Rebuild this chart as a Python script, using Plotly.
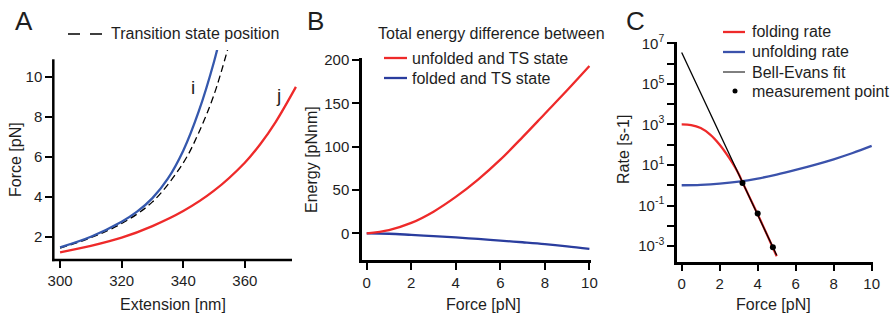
import plotly.graph_objects as go

# ---------------- data ----------------
# Panel A: force-extension curves
ext_i = [300, 310, 320, 325, 330, 335, 340, 345, 350, 352.5]
force_i = [1.47, 2.0, 2.75, 3.25, 3.93, 4.9, 6.3, 8.25, 10.75, 12.3]

ext_ts = [300, 310, 320, 330, 340, 345, 350, 355]
force_ts = [1.43, 1.95, 2.66, 3.74, 5.69, 7.19, 9.1, 11.68]

ext_j = [300, 310, 320, 330, 340, 350, 360, 365, 370, 376.6]
force_j = [1.22, 1.54, 1.95, 2.53, 3.28, 4.3, 5.7, 6.62, 7.73, 9.49]

# Panel B: total energy differences vs force
force_b = [0, 1, 2, 3, 4, 5, 6, 7, 8, 9, 10]
energy_unfolded_ts = [0, 3.8, 12, 25, 42, 62, 85, 111, 138, 165, 193]
energy_folded_ts = [0, -0.5, -1.8, -3.2, -4.8, -6.5, -8.4, -10.3, -12.4, -15, -18]

# Panel C: rates vs force
force_fold = [0, 0.5, 1.0, 1.5, 2.0, 2.5, 2.8, 3.0, 3.2, 3.5, 4.0, 4.5, 5.0]
rate_fold = [1000, 933, 661, 316, 100, 22.4, 7.94, 3.55, 1.41, 0.355, 0.0372, 0.00355, 0.000316]

force_unfold = [0, 1, 2, 3, 4, 5, 6, 7, 8, 9, 10]
rate_unfold = [1.0, 1.05, 1.20, 1.51, 2.14, 3.39, 5.75, 10.2, 19.1, 38.9, 87.1]

force_bell = [0, 5.0]
rate_bell = [3.5e6, 3.5e-4]

force_meas = [3.2, 4.0, 4.8]
rate_meas = [1.3, 0.04, 0.00087]

# tick labels
ticks_a_x = [300, 320, 340, 360]
ticks_a_y = [2, 4, 6, 8, 10]
ticks_b_x = [0, 2, 4, 6, 8, 10]
ticks_b_y = [0, 50, 100, 150, 200]
ticks_c_x = [0, 2, 4, 6, 8, 10]
ticks_c_y = [1e-3, 1e-1, 1e1, 1e3, 1e5, 1e7]
labels_c_y = ["10<sup>-3</sup>", "10<sup>-1</sup>", "10<sup>1</sup>",
              "10<sup>3</sup>", "10<sup>5</sup>", "10<sup>7</sup>"]
minor_c_y = [1e-2, 1e0, 1e2, 1e4, 1e6]

# ---------------- styling ----------------
W, H = 890, 320
RED = "#ee2a2a"
BLUE_A = "#3558ad"
BLUE_B = "#2a3d9e"
BLUE_C = "#3b52ab"
TXT = "#1e1e1e"
FONT = "Liberation Sans, Arial, Helvetica, sans-serif"
LW = 2.3


def px(x):
    return x / W


def py(y):
    return 1 - y / H


fig = go.Figure()

# Panel A
fig.add_trace(go.Scatter(x=ext_ts, y=force_ts, mode="lines", xaxis="x", yaxis="y",
                         line=dict(color="black", width=1.3, dash="7px,4px"), line_shape="spline"))
fig.add_trace(go.Scatter(x=ext_i, y=force_i, mode="lines", xaxis="x", yaxis="y",
                         line=dict(color=BLUE_A, width=LW), line_shape="spline"))
fig.add_trace(go.Scatter(x=ext_j, y=force_j, mode="lines", xaxis="x", yaxis="y",
                         line=dict(color=RED, width=LW), line_shape="spline"))

# Panel B
fig.add_trace(go.Scatter(x=force_b, y=energy_folded_ts, mode="lines", xaxis="x2", yaxis="y2",
                         line=dict(color=BLUE_B, width=LW), line_shape="spline"))
fig.add_trace(go.Scatter(x=force_b, y=energy_unfolded_ts, mode="lines", xaxis="x2", yaxis="y2",
                         line=dict(color=RED, width=LW), line_shape="spline"))

# Panel C
fig.add_trace(go.Scatter(x=force_unfold, y=rate_unfold, mode="lines", xaxis="x3", yaxis="y3",
                         line=dict(color=BLUE_C, width=LW), line_shape="spline"))
fig.add_trace(go.Scatter(x=force_fold, y=rate_fold, mode="lines", xaxis="x3", yaxis="y3",
                         line=dict(color=RED, width=LW), line_shape="spline"))
fig.add_trace(go.Scatter(x=force_bell, y=rate_bell, mode="lines", xaxis="x3", yaxis="y3",
                         line=dict(color="black", width=1.3)))
fig.add_trace(go.Scatter(x=force_meas, y=rate_meas, mode="markers", xaxis="x3", yaxis="y3",
                         marker=dict(color="black", size=6)))

axis_common = dict(showgrid=False, zeroline=False, ticks="outside", ticklen=7, tickwidth=2,
                   tickcolor="black", tickfont=dict(family=FONT, size=15, color=TXT))
line_common = dict(showline=True, linewidth=2.5, linecolor="black")

fig.update_layout(
    width=W, height=H, margin=dict(l=0, r=0, t=0, b=0, autoexpand=False),
    paper_bgcolor="white", plot_bgcolor="white", showlegend=False,
    font=dict(family=FONT, color=TXT),
    xaxis=dict(domain=[px(53.3), px(297)], range=[297.8, 376.95], anchor="y",
               tickvals=ticks_a_x, showline=False, **axis_common),
    yaxis=dict(domain=[py(260), py(50)], range=[0.835, 11.335], anchor="x",
               tickvals=ticks_a_y, showline=False, **axis_common),
    xaxis2=dict(domain=[px(362), px(590.5)], range=[-0.211, 10.05], anchor="y2",
                tickvals=ticks_b_x, **line_common, **axis_common),
    yaxis2=dict(domain=[py(260), py(58)], range=[-30.8, 202.3], anchor="x2",
                tickvals=ticks_b_y, **line_common, **axis_common),
    xaxis3=dict(domain=[px(677), px(873)], range=[-0.247, 10.07], anchor="y3",
                tickvals=ticks_c_x, **line_common, **axis_common),
    yaxis3=dict(domain=[py(261.7), py(41.7)], range=[-3.77, 7.08], anchor="x3", type="log",
                tickvals=ticks_c_y, ticktext=labels_c_y,
                minor=dict(tickvals=minor_c_y, ticks="outside", ticklen=7, tickwidth=2,
                           tickcolor="black", showgrid=False),
                **line_common, **axis_common),
)

shapes = [
    # panel A axis lines
    dict(type="line", xref="paper", yref="paper", x0=px(53.3), x1=px(53.3), y0=py(261.2), y1=py(59.3),
         line=dict(color="black", width=2.5)),
    dict(type="line", xref="paper", yref="paper", x0=px(52), x1=px(292), y0=py(260), y1=py(260),
         line=dict(color="black", width=2.5)),
    # legend samples
    dict(type="line", xref="paper", yref="paper", x0=px(68), x1=px(102), y0=py(34), y1=py(34),
         line=dict(color="black", width=1.3, dash="12px,10px")),
    dict(type="line", xref="paper", yref="paper", x0=px(384), x1=px(407), y0=py(58), y1=py(58),
         line=dict(color=RED, width=LW)),
    dict(type="line", xref="paper", yref="paper", x0=px(384), x1=px(407), y0=py(78), y1=py(78),
         line=dict(color=BLUE_B, width=LW)),
    dict(type="line", xref="paper", yref="paper", x0=px(723), x1=px(745), y0=py(32), y1=py(32),
         line=dict(color=RED, width=LW)),
    dict(type="line", xref="paper", yref="paper", x0=px(723), x1=px(745), y0=py(52), y1=py(52),
         line=dict(color=BLUE_C, width=LW)),
    dict(type="line", xref="paper", yref="paper", x0=px(723), x1=px(745), y0=py(72), y1=py(72),
         line=dict(color="black", width=1)),
    dict(type="circle", xref="paper", yref="paper", x0=px(732.5), x1=px(737.5), y0=py(93.5), y1=py(88.5),
         fillcolor="black", line=dict(width=0)),
]
fig.update_layout(shapes=shapes)


def note(text, x, y, size=16, xanchor="left", yanchor="middle", angle=0, xref="paper", yref="paper"):
    fig.add_annotation(text=text, x=x, y=y, xref=xref, yref=yref, showarrow=False,
                       xanchor=xanchor, yanchor=yanchor, textangle=angle,
                       font=dict(family=FONT, size=size, color=TXT))


# panel letters
note("A", px(24), py(21), size=26, xanchor="center")
note("B", px(315), py(21), size=26, xanchor="center")
note("C", px(635), py(21), size=26, xanchor="center")

# axis titles
note("Extension [nm]", px(172.5), py(304), xanchor="center")
note("Force [pN]", px(15), py(160), xanchor="center", angle=-90)
note("Force [pN]", px(483), py(304), xanchor="center")
note("Energy [pNnm]", px(311), py(160), xanchor="center", angle=-90)
note("Force [pN]", px(773), py(304), xanchor="center")
note("Rate [s-1]", px(623), py(150), xanchor="center", angle=-90)

# legends
note("Transition state position", px(109), py(34))
note("Total energy difference between", px(376), py(34))
note("unfolded and TS state", px(410), py(58))
note("folded and TS state", px(410), py(78))
note("folding rate", px(750), py(32))
note("unfolding rate", px(750), py(52))
note("Bell-Evans fit", px(750), py(72))
note("measurement point", px(750), py(91))

# curve labels in panel A
note("i", 343.2, 9.45, size=19, xanchor="center", xref="x", yref="y")
note("j", 370.8, 9.05, size=19, xanchor="center", xref="x", yref="y")

fig.write_html("out.html")
